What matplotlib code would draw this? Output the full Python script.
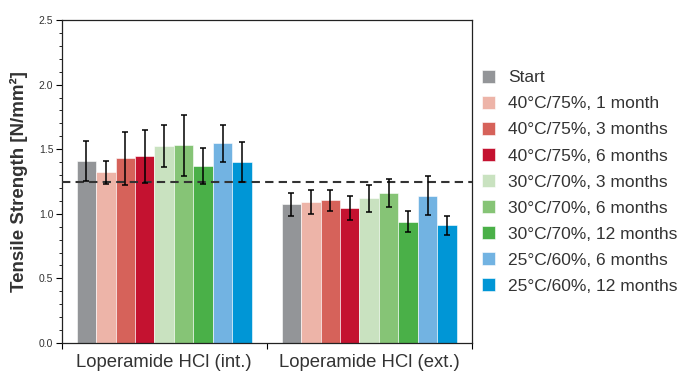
import matplotlib
matplotlib.use("Agg")
import matplotlib.pyplot as plt
import numpy as np

plt.rcParams["font.family"] = ["Liberation Sans", "DejaVu Sans"]

# ---------------------------------------------------------------------------
# Data
# ---------------------------------------------------------------------------
products = ["Loperamide HCl (int.)", "Loperamide HCl (ext.)"]

conditions = [
    "Start",
    "40°C/75%, 1 month",
    "40°C/75%, 3 months",
    "40°C/75%, 6 months",
    "30°C/70%, 3 months",
    "30°C/70%, 6 months",
    "30°C/70%, 12 months",
    "25°C/60%, 6 months",
    "25°C/60%, 12 months",
]

int_mean = [1.41, 1.32, 1.43, 1.445, 1.525, 1.53, 1.37, 1.545, 1.40]
int_err = [0.155, 0.09, 0.205, 0.205, 0.165, 0.235, 0.142, 0.142, 0.154]

ext_mean = [1.075, 1.09, 1.105, 1.045, 1.12, 1.16, 0.94, 1.14, 0.91]
ext_err = [0.089, 0.095, 0.082, 0.092, 0.107, 0.107, 0.08, 0.15, 0.077]

limit = 1.25

colors = ["#939598", "#EDB4A8", "#D6625A", "#C41230", "#C9E2C0",
          "#86C476", "#4AB048", "#72B3E2", "#0096D6"]

# ---------------------------------------------------------------------------
# Plot
# ---------------------------------------------------------------------------
fig = plt.figure(figsize=(6.84, 3.72), dpi=100)
ax = fig.add_axes([0.0902, 0.078, 0.5994, 0.868])

n = len(conditions)
width = 0.0949
x = np.arange(len(products))
handles = []
for i, cond in enumerate(conditions):
    offs = (i - (n - 1) / 2) * width
    vals = [int_mean[i], ext_mean[i]]
    errs = [int_err[i], ext_err[i]]
    b = ax.bar(x + offs, vals, width, color=colors[i], label=cond,
               edgecolor="white", linewidth=0.4, zorder=2)
    ax.errorbar(x + offs, vals, yerr=errs, fmt="none", ecolor="black",
                elinewidth=1.1, capsize=2.5, capthick=1.1, zorder=4)
    handles.append(b)

ax.axhline(limit, color="#333333", linestyle=(0, (4, 2.5)), linewidth=1.5, zorder=3)

ax.set_xlim(-0.5, 1.5)
ax.set_ylim(0, 2.5)
ax.set_yticks(np.arange(0, 2.51, 0.5))
ax.set_yticks(np.arange(0, 2.51, 0.1), minor=True)
ax.set_yticklabels([f"{v:.1f}" for v in np.arange(0, 2.51, 0.5)])
ax.tick_params(axis="y", which="major", direction="out", length=4, width=0.8,
               labelsize=7.5, labelcolor="#333333", pad=2)
ax.tick_params(axis="y", which="minor", direction="out", length=2, width=0.6)

ax.set_xticks([-0.5, 0.5, 1.5])
ax.set_xticklabels([])
ax.set_xticks(x, minor=True)
ax.set_xticklabels(products, minor=True)
ax.tick_params(axis="x", which="major", direction="out", length=4, width=0.8)
ax.tick_params(axis="x", which="minor", length=0, labelsize=13.3,
               labelcolor="#333333", pad=8)

for s in ax.spines.values():
    s.set_linewidth(0.9)
    s.set_color("#222222")

ax.set_ylabel("Tensile Strength [N/mm²]", fontsize=13.5, fontweight="bold",
              color="#333333", labelpad=8)

fig.legend(handles=handles, labels=conditions, loc="upper left",
           bbox_to_anchor=(0.695, 0.83), frameon=False, fontsize=12.5,
           handlelength=0.72, handleheight=0.72, handletextpad=0.75,
           labelspacing=0.62, borderaxespad=0, labelcolor="#333333")

fig.savefig("out.png", dpi=100)
